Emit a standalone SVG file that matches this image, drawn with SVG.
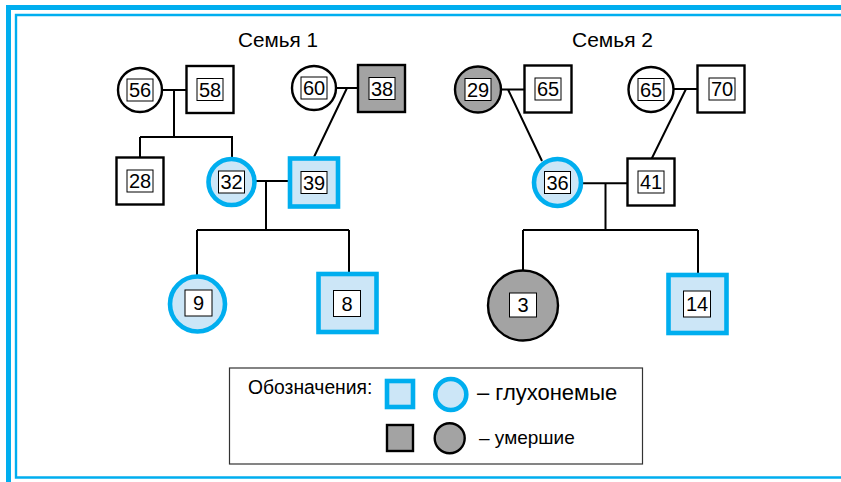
<svg xmlns="http://www.w3.org/2000/svg" width="841" height="482" viewBox="0 0 841 482">
  <style>
    .txt { font-family: "Liberation Sans", Arial, sans-serif; fill: #000; }
    .num { font-family: "Liberation Sans", Arial, sans-serif; font-size: 20px; text-anchor: middle; fill: #000; }
    .box { fill: #fff; stroke: #000; stroke-width: 1; }
    .plain { fill: #fff; stroke: #000; stroke-width: 2.4; }
    .dead { fill: #a3a3a3; stroke: #000; stroke-width: 2.4; }
    .deaf { fill: #cce6f7; stroke: #00aeef; stroke-width: 4.6; }
    .link { fill: none; stroke: #000; stroke-width: 2; }
    .frame { fill: none; stroke: #00aeef; }
  </style>

  <!-- page frame -->
  <path class="frame" d="M8.5,482 V7.5 H841" stroke-width="5"/>
  <path class="frame" d="M841,15 H16 V477.5 H841" stroke-width="2.4"/>

  <!-- titles -->
  <text class="txt" x="238" y="47" font-size="20" textLength="80" lengthAdjust="spacingAndGlyphs">Семья 1</text>
  <text class="txt" x="572" y="47" font-size="20" textLength="81" lengthAdjust="spacingAndGlyphs">Семья 2</text>

  <!-- connectors -->
  <g id="connectors">
    <!-- family 1 -->
    <path class="link" d="M162,90 H187 M174,90 V137 M140,137 H233 M140,137 V158 M232,137 V158"/>
    <path class="link" d="M336,88 H358 M347,88 L314,157"/>
    <path class="link" d="M254,181 H290 M266,181 V230 M197,230 H349 M197,230 V275 M349,230 V273"/>
    <!-- family 2 -->
    <path class="link" d="M501,89.5 H525 M508,89.5 L542,161"/>
    <path class="link" d="M673,89 H698 M686,89 L651.5,159"/>
    <path class="link" d="M580,183.3 H628 M605.5,183.3 V230 M523,230 H698 M523,230 V271 M698,230 V274"/>
  </g>

  <!-- family 1 -->
  <g id="n56">
    <circle class="plain" cx="140" cy="90" r="22"/>
    <rect class="box" x="127" y="79" width="26" height="22"/>
    <text class="num" x="140" y="97">56</text>
  </g>
  <g id="n58">
    <rect class="plain" x="186.5" y="66" width="47" height="47"/>
    <rect class="box" x="197" y="78.5" width="26" height="22"/>
    <text class="num" x="210" y="96.5">58</text>
  </g>
  <g id="n60">
    <circle class="plain" cx="314" cy="88" r="22"/>
    <rect class="box" x="301" y="77" width="26" height="22"/>
    <text class="num" x="314" y="95">60</text>
  </g>
  <g id="n38">
    <rect class="dead" x="358" y="65" width="47" height="47"/>
    <rect class="box" x="369" y="77.5" width="26" height="22"/>
    <text class="num" x="382" y="95.5">38</text>
  </g>
  <g id="n28">
    <rect class="plain" x="116.5" y="157.5" width="47" height="47"/>
    <rect class="box" x="127" y="170" width="26" height="22"/>
    <text class="num" x="140" y="188">28</text>
  </g>
  <g id="n32">
    <circle class="deaf" cx="231.5" cy="182" r="23"/>
    <rect class="box" x="218.5" y="171" width="26" height="22"/>
    <text class="num" x="231.5" y="189">32</text>
  </g>
  <g id="n39">
    <rect class="deaf" x="290" y="158.5" width="48" height="48"/>
    <rect class="box" x="301" y="171.5" width="26" height="22"/>
    <text class="num" x="314" y="189.5">39</text>
  </g>
  <g id="n9">
    <circle class="deaf" cx="197.5" cy="304" r="27.5"/>
    <rect class="box" x="185" y="290" width="27" height="26"/>
    <text class="num" x="198.5" y="310">9</text>
  </g>
  <g id="n8">
    <rect class="deaf" x="318.5" y="274" width="58" height="58"/>
    <rect class="box" x="333.5" y="290.5" width="27" height="26"/>
    <text class="num" x="347" y="310.5">8</text>
  </g>

  <!-- family 2 -->
  <g id="n29">
    <circle class="dead" cx="478" cy="89.5" r="23"/>
    <rect class="box" x="465" y="78.5" width="26" height="22"/>
    <text class="num" x="478" y="96.5">29</text>
  </g>
  <g id="n65a">
    <rect class="plain" x="524.5" y="65.5" width="47" height="47"/>
    <rect class="box" x="535" y="78" width="26" height="22"/>
    <text class="num" x="548" y="96">65</text>
  </g>
  <g id="n65b">
    <circle class="plain" cx="651" cy="89.5" r="22.5"/>
    <rect class="box" x="638" y="78.5" width="26" height="22"/>
    <text class="num" x="651" y="96.5">65</text>
  </g>
  <g id="n70">
    <rect class="plain" x="697.5" y="65.5" width="47" height="47"/>
    <rect class="box" x="709" y="78" width="26" height="22"/>
    <text class="num" x="722" y="96">70</text>
  </g>
  <g id="n36">
    <circle class="deaf" cx="557.5" cy="182.5" r="23.5"/>
    <rect class="box" x="544.5" y="171.5" width="26" height="22"/>
    <text class="num" x="557.5" y="189.5">36</text>
  </g>
  <g id="n41">
    <rect class="plain" x="627.5" y="158.5" width="47" height="47"/>
    <rect class="box" x="638" y="171" width="26" height="22"/>
    <text class="num" x="651" y="189">41</text>
  </g>
  <g id="n3">
    <circle class="dead" cx="523" cy="305.5" r="35"/>
    <rect class="box" x="509.5" y="293" width="27" height="24"/>
    <text class="num" x="523" y="312">3</text>
  </g>
  <g id="n14">
    <rect class="deaf" x="668.5" y="275" width="58" height="58"/>
    <rect class="box" x="683.5" y="291" width="27" height="26"/>
    <text class="num" x="697" y="311">14</text>
  </g>

  <!-- legend -->
  <g id="legend">
    <rect x="229.5" y="368" width="413" height="96" fill="#fff" stroke="#333" stroke-width="1.2"/>
    <text class="txt" x="248" y="394" font-size="19.3">Обозначения:</text>
    <rect class="deaf" x="387" y="381" width="26" height="26" stroke-width="4"/>
    <circle class="deaf" cx="450.8" cy="394.5" r="15.5" stroke-width="4"/>
    <text class="txt" x="477" y="400" font-size="22">– глухонемые</text>
    <rect class="dead" x="387" y="425" width="26" height="26"/>
    <circle class="dead" cx="449.7" cy="438.3" r="15"/>
    <text class="txt" x="479" y="444" font-size="19">– умершие</text>
  </g>
</svg>
